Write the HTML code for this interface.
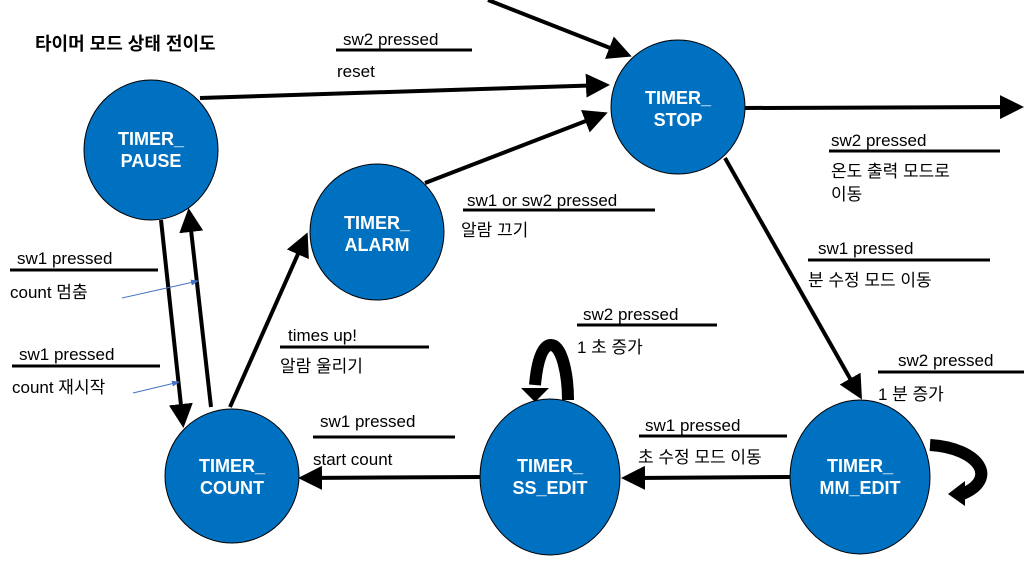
<!DOCTYPE html>
<html><head><meta charset="utf-8"><style>
html,body{margin:0;padding:0;background:#fff;}
svg{display:block;}
text{font-family:"Liberation Sans","Noto Sans CJK KR",sans-serif;font-size:17px;fill:#000;}
.n{fill:#fff;font-weight:bold;font-size:18px;text-anchor:middle;}
</style></head><body>
<svg width="1024" height="574" viewBox="0 0 1024 574" xmlns="http://www.w3.org/2000/svg">
<defs>
<marker id="a" markerWidth="6" markerHeight="6" refX="5" refY="3" orient="auto" markerUnits="strokeWidth"><path d="M0,0 L6,3 L0,6 z" fill="#000"/></marker>
<marker id="b" markerWidth="8" markerHeight="8" refX="7" refY="4" orient="auto" markerUnits="userSpaceOnUse"><path d="M0,1 L8,4 L0,7 z" fill="#4472c4"/></marker>
</defs>
<g stroke="#000" stroke-width="4" fill="none">
<line x1="200" y1="98" x2="606" y2="85" marker-end="url(#a)"/>
<line x1="488" y1="0" x2="628" y2="55" marker-end="url(#a)"/>
<line x1="745" y1="108" x2="1020" y2="107" marker-end="url(#a)"/>
<line x1="425" y1="183" x2="604" y2="114" marker-end="url(#a)"/>
<line x1="725" y1="158" x2="860" y2="396" marker-end="url(#a)"/>
<line x1="790" y1="477" x2="625" y2="478" marker-end="url(#a)"/>
<line x1="481" y1="477" x2="302" y2="478" marker-end="url(#a)"/>
<line x1="230" y1="407" x2="306" y2="236" marker-end="url(#a)"/>
<line x1="161" y1="220" x2="183" y2="424" marker-end="url(#a)"/>
<line x1="211" y1="407" x2="189" y2="212" marker-end="url(#a)"/>
</g>
<line x1="122" y1="298" x2="198" y2="281" stroke="#4472c4" stroke-width="1" marker-end="url(#b)"/>
<line x1="133" y1="393" x2="179" y2="382" stroke="#4472c4" stroke-width="1" marker-end="url(#b)"/>
<!-- self loops -->
<path d="M568,400 C568,375 562,345 551,345 C542,345 537,362 535,385" stroke="#000" stroke-width="12" fill="none"/>
<path d="M521,388 L549,388 L535,402 z" fill="#000"/>
<path d="M930,445 C980,448 1000,480 960,495" stroke="#000" stroke-width="12" fill="none"/>
<path d="M965,481 L965,506 L948,494 z" fill="#000"/>
<g fill="#0070c0" stroke="#000" stroke-width="1">
<ellipse cx="151" cy="150" rx="67" ry="70"/>
<ellipse cx="377" cy="232" rx="67" ry="68"/>
<ellipse cx="678" cy="107" rx="67" ry="67"/>
<ellipse cx="232" cy="476" rx="67" ry="67"/>
<ellipse cx="550" cy="477" rx="70" ry="78"/>
<ellipse cx="860" cy="477" rx="70" ry="77"/>
</g>
<text class="n" x="151" y="145">TIMER_</text><text class="n" x="151" y="167">PAUSE</text>
<text class="n" x="377" y="229">TIMER_</text><text class="n" x="377" y="251">ALARM</text>
<text class="n" x="678" y="104">TIMER_</text><text class="n" x="678" y="126">STOP</text>
<text class="n" x="232" y="472">TIMER_</text><text class="n" x="232" y="494">COUNT</text>
<text class="n" x="550" y="472">TIMER_</text><text class="n" x="550" y="494">SS_EDIT</text>
<text class="n" x="860" y="472">TIMER_</text><text class="n" x="860" y="494">MM_EDIT</text>
<text x="35" y="50" style="font-weight:bold;font-size:18px">타이머 모드 상태 전이도</text>
<g stroke="#000" stroke-width="3">
<line x1="336" y1="50" x2="472" y2="50"/>
<line x1="463" y1="210" x2="655" y2="210"/>
<line x1="829" y1="151" x2="1000" y2="151"/>
<line x1="808" y1="260" x2="990" y2="260"/>
<line x1="577" y1="325" x2="717" y2="325"/>
<line x1="878" y1="372" x2="1024" y2="372"/>
<line x1="639" y1="436" x2="787" y2="436"/>
<line x1="313" y1="437" x2="455" y2="437"/>
<line x1="280" y1="347" x2="429" y2="347"/>
<line x1="10" y1="270" x2="158" y2="270"/>
<line x1="12" y1="366" x2="160" y2="366"/>
</g>
<text x="343" y="45">sw2 pressed</text><text x="337" y="77">reset</text>
<text x="467" y="206">sw1 or sw2 pressed</text><text x="461" y="236">알람 끄기</text>
<text x="831" y="146">sw2 pressed</text><text x="831" y="177">온도 출력 모드로</text><text x="831" y="200">이동</text>
<text x="818" y="254">sw1 pressed</text><text x="808" y="286">분 수정 모드 이동</text>
<text x="583" y="320">sw2 pressed</text><text x="577" y="353">1 초 증가</text>
<text x="898" y="366">sw2 pressed</text><text x="878" y="400">1 분 증가</text>
<text x="645" y="431">sw1 pressed</text><text x="638" y="463">초 수정 모드 이동</text>
<text x="320" y="427">sw1 pressed</text><text x="313" y="465">start count</text>
<text x="288" y="341">times up!</text><text x="280" y="372">알람 울리기</text>
<text x="17" y="264">sw1 pressed</text><text x="10" y="298">count 멈춤</text>
<text x="19" y="360">sw1 pressed</text><text x="12" y="393">count 재시작</text>
</svg>
</body></html>
